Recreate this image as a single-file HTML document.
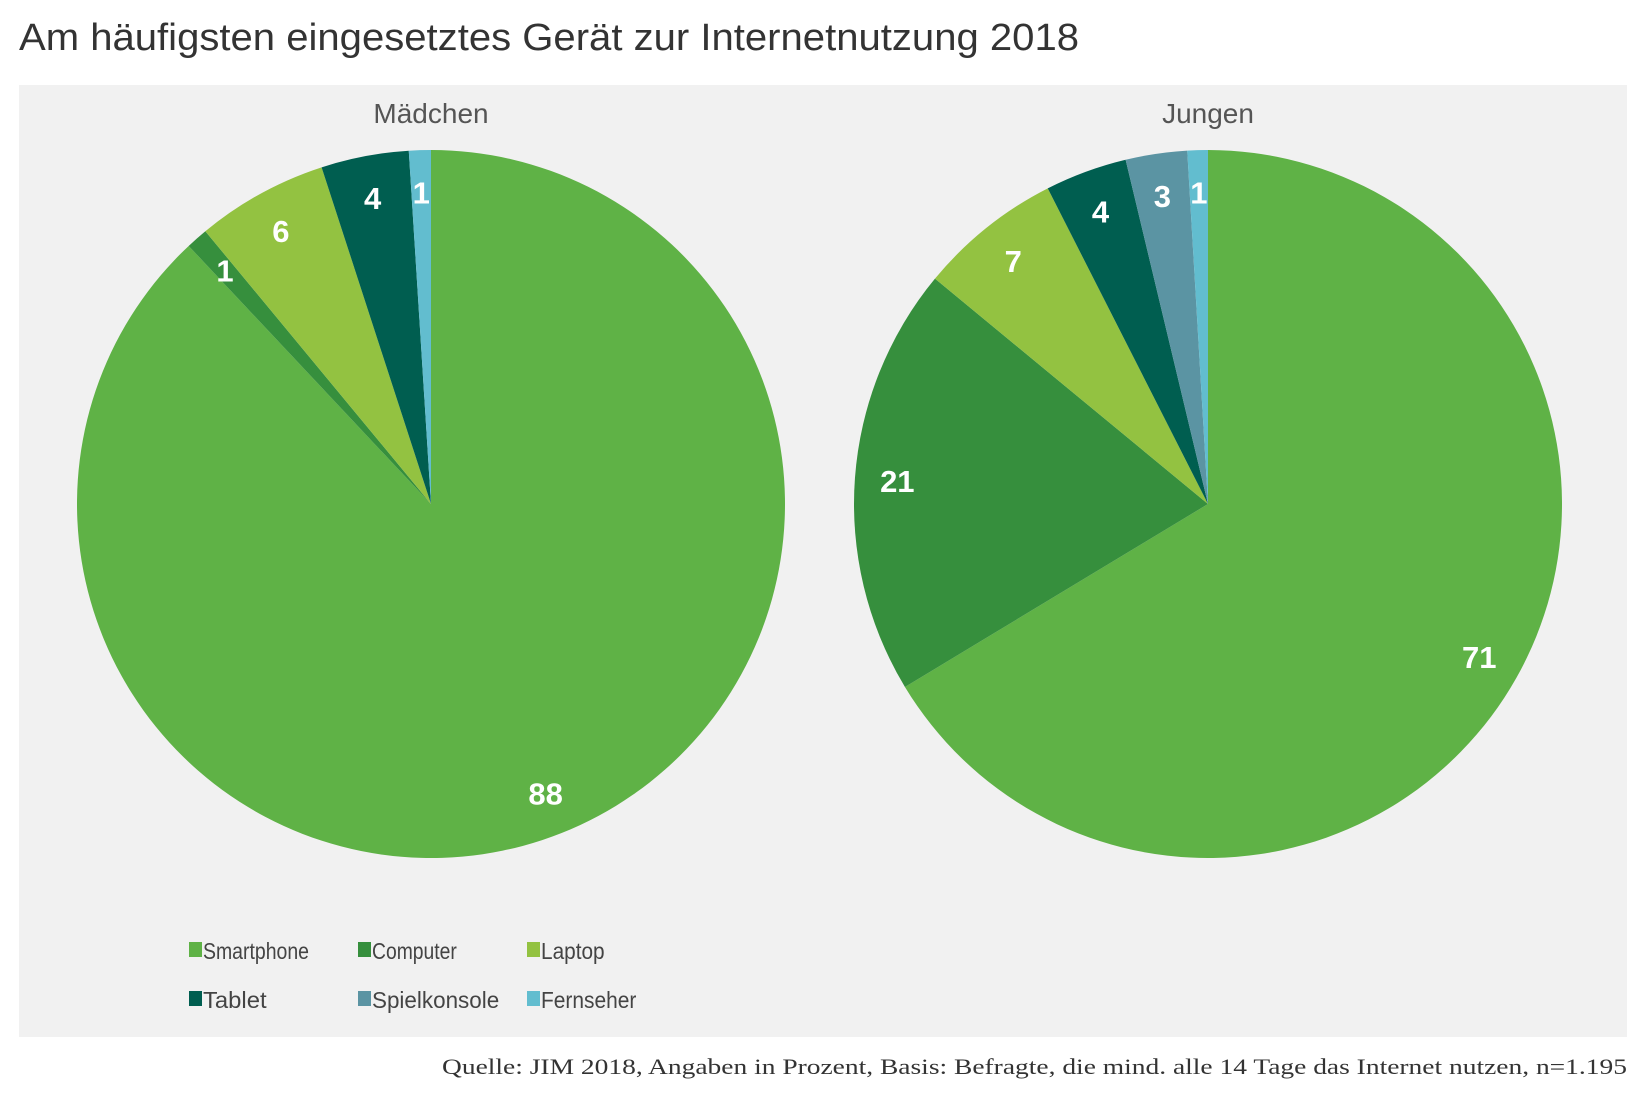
<!DOCTYPE html>
<html><head><meta charset="utf-8"><style>
html,body{margin:0;padding:0;background:#fff;}
svg{display:block;font-family:"Liberation Sans",sans-serif;}
</style></head><body>
<svg id="chart" width="1650" height="1100" viewBox="0 0 1650 1100">
<text x="19" y="50" font-size="38" fill="#333" textLength="1060" lengthAdjust="spacingAndGlyphs">Am häufigsten eingesetztes Gerät zur Internetnutzung 2018</text>
<rect x="19" y="85" width="1608" height="952" fill="#f1f1f1"/>
<g id="pies"></g>
<g id="legend"></g>
<text x="1627" y="1074" font-size="22" fill="#333" text-anchor="end" font-family="Liberation Serif, serif" textLength="1185" lengthAdjust="spacingAndGlyphs">Quelle: JIM 2018, Angaben in Prozent, Basis: Befragte, die mind. alle 14 Tage das Internet nutzen, n=1.195</text>
</svg>
<script>
const categories = ["Smartphone","Computer","Laptop","Tablet","Spielkonsole","Fernseher"];
const colors = ["#5fb246","#368f3d","#93c241","#005e50","#5b94a3","#62bdcf"];
const groups = ["Mädchen","Jungen"];
const maedchenValues = [88,1,6,4,0,1];
const jungenValues = [71,21,7,4,3,1];
const NS="http://www.w3.org/2000/svg";
const pies=document.getElementById('pies');
const centers=[[431,504],[1208,504]];
const R=354;
function mk(tag,attrs,parent){const e=document.createElementNS(NS,tag);for(const k in attrs)e.setAttribute(k,attrs[k]);parent.appendChild(e);return e;}
function pt(cx,cy,r,a){return [cx+r*Math.sin(a),cy-r*Math.cos(a)];}
[maedchenValues,jungenValues].forEach((vals,gi)=>{
  const [cx,cy]=centers[gi];
  const g=mk('g',{},pies);
  
  
  const t=mk('text',{x:cx,y:cy-381,'font-size':28,fill:'#555','text-anchor':'middle'},g);
  t.textContent=groups[gi];
  
  
  const sum=vals.reduce((a,b)=>a+b,0);
  let acc=0;
  const labels=[];
  vals.forEach((v,i)=>{
    if(v<=0){return;}
    const a0=acc/sum*2*Math.PI, a1=(acc+v)/sum*2*Math.PI; acc+=v;
    const p0=pt(cx,cy,R,a0), p1=pt(cx,cy,R,a1);
    const large=(a1-a0)>Math.PI?1:0;
    const p=mk('path',{d:`M${cx},${cy}L${p0[0]},${p0[1]}A${R},${R} 0 ${large} 1 ${p1[0]},${p1[1]}Z`,fill:colors[i]},g);
    
    
    const m=(a0+a1)/2, lp=pt(cx,cy,R*0.88,m);
    labels.push([lp,v]);
  });
  labels.forEach(([lp,v])=>{
    const l=mk('text',{x:lp[0],y:lp[1]+11,'font-size':31,'font-weight':'bold',fill:'#fff','text-anchor':'middle'},g);
    l.textContent=v;
    
    
  });
});
const legend=document.getElementById('legend');
const lx=[189,358,527], ly=[951,1000];
categories.forEach((c,i)=>{
  const x=lx[i%3], y=ly[Math.floor(i/3)];
  const g=mk('g',{},legend);
  
  
  mk('rect',{x:x,y:y-9,width:13,height:15,fill:colors[i]},g);
  const t=mk('text',{x:x+14,y:y+8,'font-size':23,fill:'#444'},g);
  t.textContent=c;
  t.setAttribute('textLength', c.length*10.6);
  t.setAttribute('lengthAdjust','spacingAndGlyphs');
});
</script>
</body></html>
